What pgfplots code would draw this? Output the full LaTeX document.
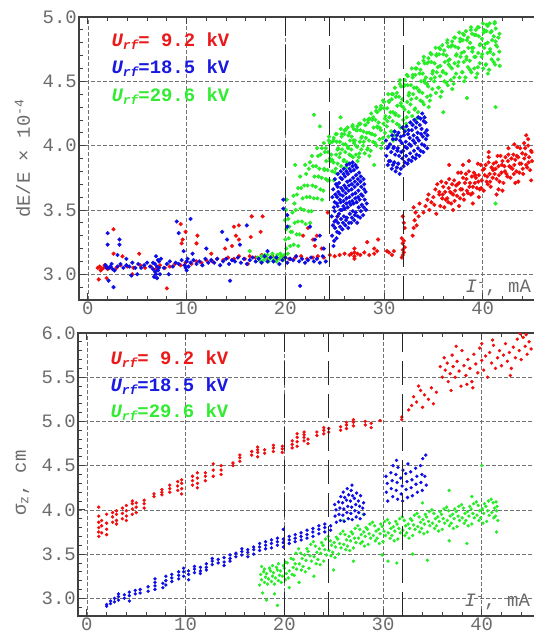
\documentclass[border=0pt]{standalone}
\usepackage{pgfplots}
\pgfplotsset{compat=1.18}
\usepackage{fontspec}
\setmainfont{Liberation Serif}
\setmonofont{Liberation Mono}
\definecolor{tgray}{gray}{0.42}
\definecolor{cR}{rgb}{0.95,0.05,0.05}
\definecolor{cB}{rgb}{0.05,0.05,0.9}
\definecolor{cG}{rgb}{0.15,0.93,0.15}
\definecolor{lR}{rgb}{0.92,0.1,0.1}
\definecolor{lB}{rgb}{0.1,0.1,0.88}
\definecolor{lG}{rgb}{0.2,0.92,0.2}
\newcommand{\tlab}{\fontsize{19}{19}\selectfont\ttfamily}
\newcommand{\legf}{\fontsize{19}{19}\selectfont\ttfamily\bfseries}
\newcommand{\Urf}{{\itshape U\raisebox{-0.3ex}{\fontsize{13}{13}\selectfont rf}}}
\pgfplotsset{
 panel/.style={
  scale only axis, width=460bp, height=283bp,
  xmin=-0.9, xmax=45.7,
  xtick={0,10,20,30,40}, minor xtick={0,2,...,44},
  xtick pos=both, xticklabel pos=bottom, ytick pos=left,
  tick align=inside,
  major tick length=7bp, minor tick length=4bp,
  tick style={black!75, line width=0.8bp},
  axis line style={black!75, line width=1.2bp},
  grid=major,
  major grid style={black!55, line width=0.6bp, dash pattern=on 3.5bp off 2.5bp},
  tick label style={font=\tlab, text=tgray, inner sep=2bp},
  /pgf/number format/assume math mode=true,
  yticklabel style={/pgf/number format/fixed, /pgf/number format/fixed zerofill, /pgf/number format/precision=1},
  clip mode=individual,
 },
 dashv/.style={black!85, line width=1.4bp, dash pattern=on 24bp off 9bp},
 pR/.style={only marks, mark=*, mark size=1.9bp, color=cR},
 pB/.style={only marks, mark=*, mark size=1.9bp, color=cB},
 pG/.style={only marks, mark=*, mark size=1.9bp, color=cG},
}
\begin{document}
\begin{tikzpicture}
\path[use as bounding box] (0,0) rectangle (534bp,640bp);
% ================= TOP PANEL =================
\begin{axis}[panel, at={(79bp,340bp)}, anchor=south west,
  ymin=2.8, ymax=5.0, ytick={3,3.5,...,5}, minor ytick={2.9,3.0,...,5.0},
  ylabel={dE/E \texttimes{} 10\textsuperscript{-4}},
  every axis y label/.style={at={(ticklabel cs:0.5,7bp)}, rotate=90, anchor=south, font=\tlab, text=tgray}]
% red
\addplot[pR] coordinates {
(1.0,3.05)(1.2,3.06)(1.4,3.04)(1.6,3.05)(1.8,3.06)(2.0,3.04)(1.3,3.03)(1.7,3.07)(2.2,3.05)(2.9,3.05)(3.3,3.07)(4.0,3.06)(4.6,3.05)(5.3,3.07)(5.8,3.05)(6.4,3.06)(6.9,3.04)(7.3,3.07)(7.8,3.05)(8.3,3.06)(8.8,3.08)(9.4,3.07)(9.9,3.09)(10.5,3.08)(11.0,3.10)(11.5,3.09)(12.0,3.11)(12.6,3.10)(13.1,3.12)(13.7,3.11)(14.2,3.13)(14.8,3.12)(15.3,3.14)(15.9,3.12)(16.4,3.14)(17.0,3.13)(17.6,3.15)(18.1,3.13)(18.7,3.14)(19.2,3.12)(19.8,3.13)(20.4,3.12)(21.0,3.13)(21.6,3.14)(22.2,3.12)(22.8,3.13)(23.3,3.14)(23.9,3.13)(24.5,3.15)(25.0,3.14)(25.5,3.15)(26.0,3.16)(26.5,3.15)(27.0,3.12)(27.0,3.14)(27.0,3.17)(27.0,3.20)(26.7,3.16)(27.3,3.16)(27.6,3.15)(28.0,3.17)(28.5,3.15)(29.0,3.16)(29.3,3.18)(30.5,3.17)(31.0,3.18)
(1.1,2.96)(1.9,2.97)(2.6,3.35)(2.6,3.16)(3.5,3.14)(4.5,3.0)(5.2,3.16)(8.0,2.89)(9.4,3.39)(9.9,3.33)(9.5,3.24)(9.6,3.27)(11.0,3.24)(11.1,3.30)(12.5,3.16)(13.9,3.20)(14.8,3.37)(15.0,3.30)(15.3,3.27)(14.6,3.22)(15.3,3.38)(16.5,3.29)(16.6,3.45)(17.5,3.33)(17.7,3.45)(16.2,3.08)(22.3,3.36)(22.8,3.27)(23.2,3.30)(24.3,3.48)(23.0,3.22)(25.3,3.45)(28.3,3.25)(29.4,3.27)(30.8,3.15)(23.7,3.20)(21.8,3.30)(29.0,3.20)(30.3,3.18)
(31.8,3.13)(31.9,3.15)(32.0,3.17)(31.9,3.19)(32.1,3.21)(31.9,3.24)(32.0,3.26)(31.8,3.28)(32.0,3.40)(31.9,3.45)(32.1,3.36)
(32.9,3.30)(33.0,3.36)(33.1,3.42)(33.2,3.48)(33.0,3.52)(33.3,3.38)(33.5,3.45)(33.6,3.55)(34.0,3.48)(34.2,3.53)(34.4,3.58)(34.5,3.62)(34.6,3.50)(34.8,3.56)(35.0,3.60)(35.2,3.66)(35.1,3.54)(35.4,3.70)(35.6,3.62)(35.3,3.47)
(35.6,3.64)(35.7,3.53)(35.8,3.72)(35.9,3.59)(36.0,3.68)(36.1,3.52)(36.2,3.64)(36.3,3.71)(36.4,3.59)(36.5,3.56)(36.6,3.74)(36.7,3.64)(36.8,3.55)(36.9,3.70)(37.0,3.62)(37.1,3.73)(37.2,3.65)(37.3,3.69)(37.4,3.61)(37.5,3.79)(37.6,3.71)(37.7,3.59)(37.8,3.79)(37.9,3.66)(38.0,3.75)(38.1,3.58)(38.2,3.71)(38.3,3.78)(38.4,3.65)(38.5,3.63)(38.6,3.80)(38.7,3.71)(38.8,3.62)(38.9,3.76)(39.0,3.68)(39.1,3.79)(39.2,3.71)(39.3,3.75)(39.4,3.67)(39.5,3.86)(39.6,3.77)(39.7,3.66)(39.8,3.85)(39.9,3.73)(40.0,3.81)(40.1,3.65)(40.2,3.77)(40.3,3.85)(40.4,3.72)(40.5,3.70)(40.6,3.87)(40.7,3.78)(40.8,3.68)(40.9,3.83)(41.0,3.75)(41.1,3.86)(41.2,3.78)(41.3,3.82)(41.4,3.74)(41.5,3.92)(41.6,3.84)(41.7,3.72)(41.8,3.92)(41.9,3.79)(42.0,3.88)(42.1,3.71)(42.2,3.84)(42.3,3.91)(42.4,3.78)(42.5,3.76)(42.6,3.93)(42.7,3.84)(42.8,3.75)(42.9,3.90)(43.0,3.82)(43.1,3.93)(43.2,3.85)(43.3,3.89)(43.4,3.80)(43.5,3.99)(43.6,3.91)(43.7,3.79)(43.8,3.98)(43.9,3.86)(44.0,3.94)(44.1,3.78)(44.2,3.90)(44.3,3.98)(44.4,3.85)(44.5,3.83)(44.6,4.00)(44.7,3.91)(44.8,3.81)(44.9,3.96)(45.0,3.88)
(44.6,4.05)(44.2,4.02)(43.2,4.01)(37.0,3.50)(39.0,3.55)(41.4,3.62)(42.0,3.65)(38.0,3.85)(36.6,3.85)(40.6,3.95)(43.3,3.71)(44.9,3.73)
(35.95,3.62)(36.25,3.58)(36.55,3.67)(36.85,3.63)(37.15,3.57)(37.45,3.70)(37.75,3.66)(38.05,3.62)(38.35,3.74)(38.65,3.68)(38.95,3.63)(39.25,3.77)(39.55,3.72)(39.85,3.67)(40.15,3.82)(40.45,3.76)(40.75,3.72)(41.05,3.81)(41.35,3.87)(41.65,3.77)(41.95,3.85)(42.25,3.80)(42.55,3.88)(42.85,3.83)(43.15,3.78)(43.45,3.92)(43.75,3.86)(44.05,3.82)(44.35,3.93)(44.65,3.87)(44.95,3.95)(37.6,3.53)(39.6,3.60)(41.6,3.66)(43.6,3.72)(38.6,3.88)(40.6,3.91)(42.6,3.98)(44.4,4.08)
};
% green
\addplot[pG] coordinates {
(17.4,3.12)(17.6,3.14)(17.8,3.11)(18.0,3.13)(18.2,3.15)(18.4,3.12)(18.6,3.14)(18.8,3.11)(19.0,3.13)(19.2,3.15)(19.4,3.12)(19.6,3.14)(19.8,3.11)(20.0,3.13)(17.5,3.10)(17.9,3.15)(18.3,3.10)(18.7,3.16)(19.1,3.10)(19.5,3.16)(19.9,3.15)(17.2,3.13)(20.1,3.20)(20.0,3.27)(20.1,3.35)(19.95,3.42)(20.05,3.50)(20.15,3.58)
(20.25,3.16)(20.5,3.22)(20.35,3.28)(20.55,3.33)(20.4,3.37)(20.3,3.43)
(20.85,3.23)(20.68,3.33)(20.95,3.40)(20.72,3.48)(20.92,3.55)(20.82,3.61)
(21.32,3.22)(21.15,3.31)(21.28,3.41)(21.05,3.50)(21.18,3.62)(21.3,3.67)
(21.45,3.31)(21.7,3.41)(21.55,3.51)(21.75,3.59)(21.6,3.67)(21.5,3.76)
(22.05,3.39)(21.88,3.50)(22.15,3.60)(21.92,3.69)(22.12,3.78)(22.02,3.85)
(22.52,3.40)(22.35,3.49)(22.48,3.60)(22.25,3.69)(22.38,3.82)(22.5,3.87)
(22.65,3.49)(22.9,3.59)(22.75,3.69)(22.95,3.76)(22.8,3.84)(22.7,3.92)
(23.25,3.59)(23.08,3.68)(23.35,3.76)(23.12,3.84)(23.32,3.92)(23.22,3.98)
(23.72,3.58)(23.55,3.66)(23.68,3.75)(23.45,3.82)(23.58,3.93)(23.7,3.98)
(23.85,3.65)(24.1,3.74)(23.95,3.82)(24.15,3.88)(24.0,3.95)(23.9,4.02)
(24.45,3.73)(24.28,3.81)(24.55,3.88)(24.32,3.95)(24.52,4.02)(24.42,4.07)
(24.92,3.73)(24.75,3.80)(24.88,3.87)(24.65,3.93)(24.78,4.03)(24.9,4.06)
(25.05,3.79)(25.3,3.86)(25.15,3.93)(25.35,3.98)(25.2,4.03)(25.1,4.09)
(25.65,3.84)(25.48,3.91)(25.75,3.97)(25.52,4.03)(25.72,4.09)(25.62,4.13)
(26.12,3.83)(25.95,3.89)(26.08,3.95)(25.85,4.01)(25.98,4.09)(26.1,4.12)
(26.25,3.87)(26.5,3.93)(26.35,3.99)(26.55,4.04)(26.4,4.08)(26.3,4.14)
(26.85,3.91)(26.68,3.97)(26.95,4.02)(26.72,4.07)(26.92,4.13)(26.82,4.16)
(27.32,3.88)(27.15,3.93)(27.28,3.99)(27.05,4.04)(27.18,4.12)(27.3,4.15)
(27.45,3.91)(27.7,3.97)(27.55,4.03)(27.75,4.07)(27.6,4.12)(27.5,4.17)
(28.05,3.94)(27.88,4.00)(28.15,4.06)(27.92,4.11)(28.12,4.16)(28.02,4.20)
(28.52,3.92)(28.35,3.98)(28.48,4.04)(28.25,4.10)(28.38,4.18)(28.5,4.21)
(28.65,3.96)(28.9,4.03)(28.75,4.09)(28.95,4.14)(28.8,4.20)(28.7,4.25)
(29.25,4.00)(29.08,4.08)(29.35,4.14)(29.12,4.20)(29.32,4.26)(29.22,4.30)
(29.72,3.98)(29.55,4.05)(29.68,4.12)(29.45,4.18)(29.58,4.28)(29.7,4.31)
(29.85,4.02)(30.1,4.10)(29.95,4.17)(30.15,4.23)(30.0,4.29)(29.9,4.35)
(30.45,4.07)(30.28,4.15)(30.55,4.22)(30.32,4.29)(30.52,4.35)(30.42,4.40)
(30.92,4.04)(30.75,4.11)(30.88,4.19)(30.65,4.26)(30.78,4.36)(30.9,4.40)
(31.05,4.08)(31.3,4.17)(31.15,4.25)(31.35,4.31)(31.2,4.38)(31.1,4.45)
(31.65,4.14)(31.48,4.23)(31.75,4.31)(31.52,4.38)(31.72,4.46)(31.62,4.51)
(32.12,4.12)(31.95,4.20)(32.08,4.28)(31.85,4.36)(31.98,4.46)(32.1,4.51)
(32.25,4.17)(32.5,4.26)(32.35,4.34)(32.55,4.41)(32.4,4.47)(32.3,4.55)
(32.85,4.23)(32.68,4.32)(32.95,4.40)(32.72,4.47)(32.92,4.55)(32.82,4.60)
(33.32,4.21)(33.15,4.29)(33.28,4.37)(33.05,4.45)(33.18,4.55)(33.3,4.60)
(33.45,4.26)(33.7,4.35)(33.55,4.43)(33.75,4.50)(33.6,4.56)(33.5,4.64)
(34.05,4.32)(33.88,4.41)(34.15,4.49)(33.92,4.56)(34.12,4.64)(34.02,4.69)
(34.52,4.30)(34.35,4.38)(34.48,4.46)(34.25,4.53)(34.38,4.64)(34.5,4.68)
(34.65,4.35)(34.9,4.44)(34.75,4.52)(34.95,4.58)(34.8,4.65)(34.7,4.72)
(35.25,4.41)(35.08,4.50)(35.35,4.57)(35.12,4.64)(35.32,4.71)(35.22,4.76)
(35.72,4.38)(35.55,4.45)(35.68,4.54)(35.45,4.61)(35.58,4.71)(35.7,4.75)
(35.85,4.42)(36.1,4.50)(35.95,4.58)(36.15,4.65)(36.0,4.71)(35.9,4.78)
(36.45,4.47)(36.28,4.56)(36.55,4.63)(36.32,4.70)(36.52,4.77)(36.42,4.82)
(36.92,4.44)(36.75,4.51)(36.88,4.60)(36.65,4.67)(36.78,4.77)(36.9,4.81)
(37.05,4.48)(37.3,4.56)(37.15,4.64)(37.35,4.71)(37.2,4.77)(37.1,4.84)
(37.65,4.53)(37.48,4.62)(37.75,4.69)(37.52,4.76)(37.72,4.83)(37.62,4.88)
(38.12,4.50)(37.95,4.57)(38.08,4.65)(37.85,4.72)(37.98,4.82)(38.1,4.86)
(38.25,4.53)(38.5,4.61)(38.35,4.69)(38.55,4.76)(38.4,4.82)(38.3,4.89)
(38.85,4.57)(38.68,4.66)(38.95,4.73)(38.72,4.80)(38.92,4.87)(38.82,4.92)
(39.32,4.53)(39.15,4.60)(39.28,4.69)(39.05,4.76)(39.18,4.86)(39.3,4.90)
(39.45,4.56)(39.7,4.64)(39.55,4.72)(39.75,4.79)(39.6,4.85)(39.5,4.92)
(40.05,4.60)(39.88,4.69)(40.15,4.76)(39.92,4.83)(40.12,4.90)(40.02,4.95)
(40.52,4.56)(40.35,4.63)(40.48,4.72)(40.25,4.79)(40.38,4.89)(40.5,4.93)
(40.65,4.59)(40.9,4.67)(40.75,4.75)(40.95,4.82)(40.8,4.88)(40.7,4.95)
(41.25,4.63)(41.08,4.71)(41.35,4.78)(41.12,4.85)(41.32,4.91)(41.22,4.96)
(41.72,4.62)(41.55,4.67)(41.68,4.73)(41.45,4.77)(41.58,4.84)(41.7,4.87)
(22.9,4.24)(25.6,4.22)(23.5,4.15)(41.3,4.30)(36.0,4.26)(38.4,4.37)(41.3,3.55)(21.0,3.85)(29.0,3.85)(16.4,3.18)
(24.3,3.73)(23.95,3.81)(24.5,3.90)(24.1,3.98)(24.4,4.04)
(25.1,3.82)(24.75,3.89)(25.3,3.97)(24.9,4.04)(25.2,4.09)
(25.9,3.88)(25.55,3.94)(26.1,4.01)(25.7,4.07)(26.0,4.12)
(26.7,3.92)(26.35,3.98)(26.9,4.04)(26.5,4.10)(26.8,4.15)
(27.5,3.94)(27.15,4.00)(27.7,4.06)(27.3,4.12)(27.6,4.17)
(28.3,3.97)(27.95,4.03)(28.5,4.10)(28.1,4.16)(28.4,4.20)
(29.1,4.02)(28.75,4.09)(29.3,4.15)(28.9,4.22)(29.2,4.27)
(29.9,4.06)(29.55,4.14)(30.1,4.21)(29.7,4.29)(30.0,4.34)
(30.7,4.11)(30.35,4.19)(30.9,4.26)(30.5,4.34)(30.8,4.40)
(31.5,4.16)(31.15,4.24)(31.7,4.33)(31.3,4.41)(31.6,4.48)
(32.3,4.22)(31.95,4.30)(32.5,4.39)(32.1,4.47)(32.4,4.54)
(33.1,4.28)(32.75,4.36)(33.3,4.45)(32.9,4.53)(33.2,4.60)
(33.9,4.34)(33.55,4.42)(34.1,4.51)(33.7,4.59)(34.0,4.66)
(34.7,4.39)(34.35,4.48)(34.9,4.56)(34.5,4.65)(34.8,4.71)
(35.5,4.45)(35.15,4.53)(35.7,4.62)(35.3,4.70)(35.6,4.76)
(36.3,4.49)(35.95,4.57)(36.5,4.66)(36.1,4.74)(36.4,4.80)
(37.1,4.53)(36.75,4.61)(37.3,4.70)(36.9,4.78)(37.2,4.84)
(37.9,4.57)(37.55,4.65)(38.1,4.73)(37.7,4.81)(38.0,4.87)
(38.7,4.59)(38.35,4.67)(38.9,4.76)(38.5,4.84)(38.8,4.90)
(39.5,4.61)(39.15,4.69)(39.7,4.78)(39.3,4.86)(39.6,4.92)
(40.3,4.63)(39.95,4.71)(40.5,4.80)(40.1,4.88)(40.4,4.94)
(41.1,4.65)(40.75,4.73)(41.3,4.81)(40.9,4.89)(41.2,4.95)
};
% blue
\addplot[pB] coordinates {
(1.8,3.07)(2.1,3.05)(2.4,3.08)(2.7,3.03)(3.0,3.06)(3.3,3.08)(3.6,3.05)(3.9,3.07)(4.2,3.06)(4.5,3.09)(4.8,3.05)(5.1,3.08)(5.4,3.05)(5.7,3.07)(6.0,3.09)(6.3,3.06)(6.6,3.09)(6.8,3.02)(6.9,3.14)(7.0,3.06)(7.1,3.11)(7.2,3.05)(7.4,3.12)(7.7,3.05)(8.0,3.08)(8.3,3.10)(8.6,3.06)(8.9,3.09)(9.2,3.08)(9.5,3.11)(9.8,3.07)(10.0,3.10)(10.2,3.06)(10.4,3.09)(10.7,3.11)(11.0,3.08)(11.3,3.10)(11.6,3.07)(11.9,3.12)(12.2,3.09)(12.5,3.11)(12.8,3.09)(13.1,3.12)(13.4,3.07)(13.7,3.10)(14.0,3.12)(14.3,3.08)(14.6,3.11)(14.9,3.10)(15.2,3.13)(15.5,3.09)(15.8,3.12)(16.1,3.08)(16.4,3.11)(16.7,3.13)(17.0,3.10)(17.3,3.12)(17.6,3.09)(17.9,3.14)(18.2,3.10)(18.5,3.13)(18.8,3.10)(19.1,3.13)(19.4,3.08)(19.7,3.11)(20.0,3.13)(20.2,3.09)(20.5,3.12)(20.8,3.11)(21.1,3.14)(21.4,3.10)(21.7,3.12)(22.0,3.09)(22.3,3.11)(22.6,3.13)(22.9,3.10)(23.2,3.12)(23.5,3.09)(23.8,3.14)(24.1,3.10)
(6.7,2.98)(6.9,3.00)(7.0,2.97)(7.1,3.03)(6.8,3.08)(7.2,3.10)(7.3,3.00)(6.6,3.04)(10.0,3.03)(10.1,3.12)(9.9,3.05)(2.3,3.06)(2.5,3.04)(1.9,3.05)
(2.0,3.32)(2.0,3.23)(2.1,2.95)(2.6,2.90)(3.2,3.27)(3.2,3.23)(3.0,3.15)(3.9,3.12)(9.0,3.41)(9.2,3.32)(10.4,3.43)(9.7,3.18)(10.6,3.16)(13.6,3.33)(14.1,3.27)(16.1,3.38)(14.4,2.95)(15.4,3.23)(12.0,3.20)(19.8,3.58)(19.8,3.51)(20.2,3.46)(20.2,3.37)(22.5,3.37)(23.0,3.27)(23.5,3.30)(21.5,2.91)(18.2,3.18)(23.9,3.20)(8.2,3.00)(5.0,3.00)(4.4,2.99)
(24.88,3.22)(24.74,3.30)(24.83,3.38)(24.70,3.45)(24.92,3.52)(24.77,3.60)(24.85,3.66)
(25.18,3.28)(25.04,3.36)(25.13,3.42)(25.0,3.49)(25.22,3.55)(25.07,3.62)(25.15,3.70)(25.02,3.74)
(25.48,3.32)(25.34,3.40)(25.43,3.47)(25.30,3.53)(25.52,3.58)(25.37,3.64)(25.45,3.71)(25.32,3.78)
(25.78,3.35)(25.64,3.43)(25.73,3.50)(25.60,3.56)(25.82,3.61)(25.67,3.67)(25.75,3.74)(25.62,3.80)
(26.08,3.38)(25.94,3.45)(26.03,3.51)(25.90,3.57)(26.12,3.63)(25.97,3.69)(26.05,3.76)(25.92,3.82)
(26.38,3.36)(26.24,3.44)(26.33,3.52)(26.20,3.59)(26.42,3.65)(26.27,3.72)(26.35,3.78)(26.22,3.85)
(26.68,3.40)(26.54,3.47)(26.63,3.54)(26.50,3.60)(26.72,3.66)(26.57,3.73)(26.65,3.80)(26.52,3.86)
(26.98,3.42)(26.84,3.49)(26.93,3.55)(26.80,3.62)(27.02,3.68)(26.87,3.75)(26.95,3.81)(26.82,3.87)
(27.28,3.40)(27.14,3.48)(27.23,3.56)(27.10,3.63)(27.32,3.70)(27.17,3.77)(27.25,3.83)
(27.58,3.44)(27.44,3.52)(27.53,3.58)(27.40,3.65)(27.62,3.72)(27.47,3.79)
(27.88,3.46)(27.74,3.54)(27.83,3.61)(27.70,3.68)(27.92,3.74)
(28.18,3.50)(28.04,3.58)(28.13,3.64)(28.00,3.70)
(24.95,3.26)(24.98,3.41)(25.0,3.56)(25.25,3.33)(25.28,3.45)(25.25,3.60)(25.3,3.68)(25.55,3.37)(25.58,3.50)(25.55,3.62)(25.6,3.75)(25.85,3.40)(25.88,3.53)(25.85,3.65)(25.9,3.78)(26.15,3.42)(26.18,3.55)(26.15,3.67)(26.2,3.80)(26.45,3.40)(26.48,3.56)(26.45,3.69)(26.5,3.82)(26.75,3.44)(26.78,3.57)(26.75,3.70)(26.8,3.84)(27.05,3.46)(27.08,3.59)(27.05,3.72)(27.1,3.85)(27.35,3.45)(27.38,3.60)(27.35,3.74)(27.65,3.49)(27.68,3.62)(27.65,3.76)(27.95,3.52)(27.98,3.66)(28.25,3.55)
(30.38,3.85)(30.24,3.92)(30.33,3.98)(30.20,4.04)
(30.78,3.82)(30.64,3.88)(30.73,3.95)(30.60,4.01)(30.82,4.08)
(31.18,3.80)(31.04,3.87)(31.13,3.93)(31.0,3.99)(31.22,4.05)(31.07,4.11)
(31.58,3.78)(31.44,3.86)(31.53,3.92)(31.40,3.98)(31.62,4.04)(31.47,4.10)
(31.98,3.84)(31.84,3.90)(31.93,3.96)(31.80,4.02)(32.02,4.08)(31.87,4.14)
(32.38,3.86)(32.24,3.92)(32.33,3.98)(32.20,4.03)(32.42,4.09)(32.27,4.15)
(32.78,3.88)(32.64,3.94)(32.73,4.00)(32.60,4.06)(32.82,4.12)(32.67,4.18)
(33.18,3.90)(33.04,3.96)(33.13,4.02)(33.0,4.08)(33.22,4.14)(33.07,4.20)
(33.58,3.92)(33.44,3.98)(33.53,4.04)(33.40,4.10)(33.62,4.16)(33.47,4.22)
(33.98,3.95)(33.84,4.01)(33.93,4.07)(33.80,4.13)(34.02,4.19)(33.87,4.25)
(34.38,3.98)(34.24,4.05)(34.33,4.12)(34.20,4.18)
(30.5,3.88)(30.45,3.99)(30.9,3.85)(30.95,3.98)(30.9,4.05)(31.3,3.83)(31.35,3.96)(31.3,4.08)(31.7,3.82)(31.75,3.95)(31.7,4.07)(32.1,3.87)(32.15,3.99)(32.1,4.11)(32.5,3.89)(32.55,4.01)(32.5,4.12)(32.9,3.91)(32.95,4.04)(32.9,4.16)(33.3,3.93)(33.35,4.06)(33.3,4.18)(33.7,3.96)(33.75,4.09)(33.7,4.21)(34.1,4.00)(34.15,4.10)(34.1,4.22)(34.4,4.08)
};
\addplot[dashv] coordinates {(20,2.8) (20,5.0)};
\addplot[dashv] coordinates {(24.5,2.8) (24.5,5.0)};
\addplot[dashv] coordinates {(32,2.8) (32,5.0)};
\node[anchor=base west, font=\legf, text=lR] at (rel axis cs:0.063,0.894) {\Urf= 9.2 kV};
\node[anchor=base west, font=\legf, text=lB] at (rel axis cs:0.063,0.799) {\Urf=18.5 kV};
\node[anchor=base west, font=\legf, text=lG] at (rel axis cs:0.063,0.703) {\Urf=29.6 kV};
\node[anchor=base east, font=\tlab, text=tgray, inner sep=0pt] at (axis cs:44.9,2.86) {{\itshape I\textsuperscript{-}}, mA};
\end{axis}
% ================= BOTTOM PANEL =================
\begin{axis}[panel, at={(78bp,24bp)}, anchor=south west,
  ymin=2.8, ymax=6.0, ytick={3,3.5,...,6}, minor ytick={2.9,3.0,...,6.0},
  ylabel={σ\textsubscript{z}, cm},
  every axis y label/.style={at={(ticklabel cs:0.47,7bp)}, rotate=90, anchor=south, font=\tlab, text=tgray}]
% red
\addplot[pR, mark size=1.5bp] coordinates {
(1.2,3.70)(1.2,3.75)(1.2,3.80)(1.2,3.86)(1.2,3.93)(1.2,4.03)(1.5,3.74)(1.5,3.82)(1.5,3.88)(2.0,3.72)(2.0,3.78)(2.0,3.85)(2.0,3.95)(2.6,3.86)(2.6,3.92)(2.6,3.97)(3.0,3.84)(3.0,3.88)(3.0,3.95)(3.0,3.99)(3.6,3.90)(3.6,3.96)(3.6,4.02)(4.0,3.88)(4.0,3.93)(4.0,3.99)(4.0,4.05)(4.6,3.95)(4.6,4.01)(4.6,4.07)(4.6,4.10)(5.0,3.97)(5.0,4.03)(5.0,4.08)(5.8,4.02)(5.8,4.07)(5.8,4.11)(6.8,4.15)(6.8,4.18)(7.6,4.17)(7.6,4.20)(7.6,4.23)(8.4,4.20)(8.4,4.24)(8.4,4.28)(9.2,4.22)(9.2,4.27)(9.2,4.32)(9.6,4.18)(9.6,4.24)(9.6,4.30)(9.6,4.34)(10.7,4.28)(10.7,4.33)(10.7,4.38)(11.2,4.25)(11.2,4.30)(11.2,4.36)(11.2,4.42)(12.0,4.33)(12.0,4.38)(12.0,4.42)(12.8,4.38)(12.8,4.45)(12.8,4.52)(13.6,4.40)(13.6,4.45)(13.6,4.50)(14.8,4.50)(14.8,4.53)(15.5,4.55)(15.5,4.59)(15.5,4.62)(16.7,4.62)(16.7,4.66)(17.3,4.60)(17.3,4.65)(17.3,4.68)(17.3,4.71)(18.0,4.64)(18.0,4.68)(18.9,4.66)(18.9,4.70)(18.9,4.73)(19.8,4.65)(19.8,4.69)(19.8,4.72)(20.8,4.70)(20.8,4.74)(20.8,4.78)(21.3,4.72)(21.3,4.77)(21.3,4.82)(21.3,4.86)(22.0,4.78)(22.0,4.82)(22.0,4.85)(22.0,4.88)(22.4,4.75)(22.4,4.80)(23.3,4.84)(23.3,4.88)(24.0,4.86)(24.0,4.90)(24.0,4.93)(24.5,4.88)(24.5,4.92)(25.7,4.90)(25.7,4.94)(26.3,4.92)(26.3,4.96)(26.3,4.99)(27.0,4.95)(27.0,4.99)(27.0,5.02)(28.2,4.96)(28.2,5.00)(28.8,4.93)(28.8,4.98)(29.7,5.01)(31.9,5.02)(31.9,5.05)
(32.6,5.13)(32.9,5.18)(33.1,5.28)(33.4,5.22)(33.8,5.35)(34.0,5.16)(34.2,5.30)(34.6,5.25)(34.9,5.38)(35.1,5.20)(35.4,5.33)(33.6,5.40)
(35.8,5.62)(36.0,5.50)(36.2,5.72)(36.3,5.58)(36.5,5.66)(36.6,5.45)(36.8,5.54)(37.0,5.75)(37.1,5.62)(37.3,5.50)(37.5,5.68)(37.7,5.57)(37.9,5.40)(38.0,5.80)(38.2,5.63)(38.4,5.52)(38.6,5.70)(38.8,5.60)(39.0,5.45)(39.2,5.76)(39.4,5.65)(39.6,5.55)(39.8,5.83)(40.0,5.69)(40.2,5.58)(40.4,5.74)(40.6,5.50)(40.8,5.78)(41.0,5.66)(41.2,5.86)(41.4,5.60)(41.6,5.72)(41.8,5.80)(42.0,5.63)(42.2,5.75)(42.4,5.88)(42.6,5.68)(42.8,5.78)(43.0,5.60)(43.2,5.84)(43.4,5.72)(43.6,5.93)(43.8,5.80)(44.0,5.70)(44.2,5.95)(44.4,5.85)(44.6,5.76)(44.8,5.90)(45.0,5.82)(36.9,5.35)(38.5,5.42)(40.0,5.88)(42.9,5.52)(44.5,5.98)(39.1,5.38)(41.1,5.92)(43.9,5.99)(37.4,5.85)
};
% green
\addplot[pG, mark size=1.5bp] coordinates {
(17.5,3.15)(18.0,3.18)(17.7,3.21)(18.1,3.24)(17.6,3.27)(17.9,3.30)(18.0,3.33)(17.7,3.36)
(18.3,3.16)(18.7,3.19)(18.4,3.22)(18.8,3.25)(18.2,3.28)(18.6,3.31)(18.5,3.34)(18.8,3.37)
(19.0,3.16)(19.4,3.20)(19.1,3.23)(19.5,3.26)(18.9,3.29)(19.3,3.32)(19.2,3.35)(19.4,3.39)
(19.7,3.18)(20.1,3.21)(19.8,3.25)(20.2,3.28)(19.6,3.31)(20.0,3.34)(19.9,3.37)(20.1,3.41)
(20.4,3.23)(20.8,3.27)(20.5,3.31)(20.9,3.35)(20.3,3.40)(20.7,3.45)
(21.0,3.26)(21.25,3.33)(21.1,3.39)(20.92,3.44)(21.18,3.51)
(21.72,3.32)(21.52,3.39)(21.8,3.45)(21.65,3.51)(21.45,3.56)
(22.13,3.30)(21.9,3.36)(22.2,3.43)(22.05,3.49)(22.28,3.56)
(22.5,3.34)(22.75,3.42)(22.6,3.48)(22.42,3.53)(22.68,3.61)
(23.22,3.39)(23.02,3.47)(23.3,3.52)(23.15,3.59)(22.95,3.64)
(23.63,3.38)(23.4,3.44)(23.7,3.51)(23.55,3.56)(23.78,3.63)
(24.0,3.42)(24.25,3.49)(24.1,3.55)(23.92,3.60)(24.18,3.67)
(24.72,3.48)(24.52,3.54)(24.8,3.60)(24.65,3.65)(24.45,3.70)
(25.13,3.46)(24.9,3.52)(25.2,3.58)(25.05,3.63)(25.28,3.69)
(25.5,3.50)(25.75,3.57)(25.6,3.62)(25.42,3.67)(25.68,3.73)
(26.22,3.55)(26.02,3.61)(26.3,3.66)(26.15,3.72)(25.95,3.76)
(26.63,3.54)(26.4,3.59)(26.7,3.65)(26.55,3.70)(26.78,3.75)
(27.0,3.57)(27.25,3.63)(27.1,3.68)(26.92,3.73)(27.18,3.79)
(27.72,3.62)(27.52,3.68)(27.8,3.72)(27.65,3.78)(27.45,3.82)
(28.13,3.59)(27.9,3.64)(28.2,3.70)(28.05,3.75)(28.28,3.80)
(28.5,3.61)(28.75,3.68)(28.6,3.73)(28.42,3.78)(28.68,3.84)
(29.22,3.65)(29.02,3.71)(29.3,3.76)(29.15,3.82)(28.95,3.86)
(29.63,3.62)(29.4,3.68)(29.7,3.73)(29.55,3.78)(29.78,3.84)
(30.0,3.64)(30.25,3.71)(30.1,3.76)(29.92,3.81)(30.18,3.87)
(30.72,3.68)(30.52,3.74)(30.8,3.79)(30.65,3.85)(30.45,3.89)
(31.13,3.65)(30.9,3.71)(31.2,3.76)(31.05,3.81)(31.28,3.87)
(31.5,3.67)(31.75,3.74)(31.6,3.79)(31.42,3.84)(31.68,3.90)
(32.22,3.71)(32.02,3.77)(32.3,3.82)(32.15,3.88)(31.95,3.92)
(32.63,3.68)(32.4,3.74)(32.7,3.79)(32.55,3.84)(32.78,3.90)
(33.0,3.71)(33.25,3.78)(33.1,3.83)(32.92,3.88)(33.18,3.94)
(33.72,3.75)(33.52,3.81)(33.8,3.86)(33.65,3.92)(33.45,3.96)
(34.13,3.73)(33.9,3.79)(34.2,3.84)(34.05,3.89)(34.28,3.95)
(34.5,3.75)(34.75,3.82)(34.6,3.87)(34.42,3.92)(34.68,3.98)
(35.22,3.79)(35.02,3.85)(35.3,3.90)(35.15,3.96)(34.95,4.00)
(35.63,3.76)(35.4,3.82)(35.7,3.87)(35.55,3.92)(35.78,3.98)
(36.0,3.78)(36.25,3.85)(36.1,3.90)(35.92,3.95)(36.18,4.01)
(36.72,3.82)(36.52,3.88)(36.8,3.93)(36.65,3.99)(36.45,4.03)
(37.13,3.79)(36.9,3.85)(37.2,3.90)(37.05,3.95)(37.28,4.01)
(37.5,3.81)(37.75,3.88)(37.6,3.93)(37.42,3.98)(37.68,4.04)
(38.22,3.85)(38.02,3.91)(38.3,3.96)(38.15,4.02)(37.95,4.06)
(38.63,3.82)(38.4,3.88)(38.7,3.93)(38.55,3.98)(38.78,4.04)
(39.0,3.84)(39.25,3.91)(39.1,3.96)(38.92,4.01)(39.18,4.07)
(39.72,3.88)(39.52,3.94)(39.8,3.99)(39.65,4.05)(39.45,4.09)
(40.13,3.85)(39.9,3.91)(40.2,3.96)(40.05,4.01)(40.28,4.07)
(40.5,3.87)(40.75,3.94)(40.6,3.99)(40.42,4.04)(40.68,4.10)
(41.22,3.91)(41.02,3.97)(41.3,4.02)(41.15,4.08)(40.95,4.12)
(41.63,3.88)(41.4,3.93)(41.5,3.99)(41.55,4.04)(41.45,4.09)
(17.8,3.06)(19.3,2.92)(18.2,2.98)(19.0,3.05)(20.5,3.12)(21.5,3.18)(29.9,3.49)(30.5,3.42)(31.4,3.40)(34.5,3.43)(36.7,3.65)(36.7,4.22)(40.0,4.50)(34.0,4.08)(28.0,3.95)(33.0,3.50)(38.5,3.62)(25.0,3.32)(27.0,3.42)(23.0,3.25)(26.0,3.88)(39.0,4.15)(41.5,3.75)
};
% blue
\addplot[pB, mark size=1.5bp] coordinates {
(2.0,2.91)(2.0,2.93)(2.4,2.94)(2.4,2.97)(2.8,2.96)(2.8,3.00)(3.2,2.98)(3.2,3.02)(3.2,3.05)(3.8,3.00)(3.8,3.04)(4.3,3.03)(4.3,3.07)(4.3,2.97)(4.9,3.05)(4.9,3.09)(5.4,3.06)(5.4,3.10)(6.2,3.08)(6.2,3.13)(6.9,3.10)(6.9,3.14)(6.9,3.18)(6.9,3.22)(7.7,3.12)(7.7,3.17)(8.0,3.15)(8.0,3.20)(8.0,3.25)(8.6,3.19)(8.6,3.23)(8.6,3.27)(9.3,3.22)(9.3,3.26)(9.3,3.30)(9.8,3.25)(9.8,3.30)(9.8,3.34)(10.3,3.27)(10.3,3.31)(10.3,3.21)(10.9,3.29)(10.9,3.33)(10.9,3.36)(11.5,3.31)(11.5,3.35)(11.5,3.28)(12.1,3.35)(12.1,3.39)(12.1,3.32)(12.7,3.38)(12.7,3.42)(12.7,3.45)(13.3,3.40)(13.3,3.44)(13.9,3.41)(13.9,3.46)(13.9,3.37)(14.5,3.45)(14.5,3.49)(14.5,3.42)(15.1,3.47)(15.1,3.51)(15.7,3.49)(15.7,3.53)(15.7,3.56)(16.3,3.47)(16.3,3.52)(16.3,3.55)(16.9,3.50)(16.9,3.55)(16.9,3.58)(17.5,3.54)(17.5,3.58)(17.5,3.62)(18.1,3.56)(18.1,3.60)(18.1,3.64)(18.7,3.57)(18.7,3.62)(18.7,3.66)(19.3,3.60)(19.3,3.64)(19.3,3.68)(19.9,3.58)(19.9,3.63)(19.9,3.67)(19.9,3.78)(20.5,3.62)(20.5,3.66)(20.5,3.70)(21.1,3.64)(21.1,3.68)(21.1,3.72)(21.7,3.66)(21.7,3.70)(21.7,3.74)(22.3,3.68)(22.3,3.72)(22.3,3.77)(22.9,3.70)(22.9,3.75)(22.9,3.79)(23.5,3.73)(23.5,3.78)(23.5,3.82)(24.1,3.75)(24.1,3.80)(24.1,3.84)(24.7,3.77)(24.7,3.82)
(25.28,3.86)(25.14,3.93)(25.23,4.00)(25.10,4.06)
(25.68,3.88)(25.54,3.95)(25.63,4.02)(25.50,4.09)(25.72,4.15)
(26.08,3.87)(25.94,3.94)(26.03,4.01)(25.90,4.08)(26.12,4.14)(25.97,4.20)
(26.48,3.90)(26.34,3.97)(26.43,4.04)(26.30,4.11)(26.52,4.17)(26.37,4.24)
(26.88,3.89)(26.74,3.96)(26.83,4.03)(26.70,4.10)(26.92,4.16)(26.77,4.22)(26.85,4.28)
(27.28,3.92)(27.14,3.99)(27.23,4.06)(27.10,4.13)(27.32,4.19)
(27.68,3.90)(27.54,3.97)(27.63,4.04)(27.50,4.10)(27.72,4.16)
(28.08,3.95)(27.94,4.02)(28.03,4.08)
(30.48,4.10)(30.34,4.20)(30.43,4.30)(30.30,4.38)
(30.98,4.15)(30.84,4.24)(30.93,4.33)(30.80,4.42)(31.02,4.50)
(31.48,4.12)(31.34,4.22)(31.43,4.31)(31.30,4.40)(31.52,4.48)(31.37,4.56)
(31.98,4.10)(31.84,4.18)(31.93,4.27)(31.80,4.36)(32.02,4.45)
(32.48,4.14)(32.34,4.23)(32.43,4.32)(32.30,4.41)(32.52,4.52)
(32.98,4.16)(32.84,4.25)(32.93,4.34)(32.80,4.43)
(33.48,4.20)(33.34,4.29)(33.43,4.38)(33.30,4.47)
(33.98,4.22)(33.84,4.31)(33.93,4.40)(33.80,4.50)(34.02,4.58)
(34.38,4.28)(34.24,4.38)(34.33,4.62)
};
\addplot[dashv] coordinates {(20,2.8) (20,6.0)};
\addplot[dashv] coordinates {(24.5,2.8) (24.5,6.0)};
\addplot[dashv] coordinates {(32,2.8) (32,6.0)};
\node[anchor=base west, font=\legf, text=lR] at (rel axis cs:0.063,0.887) {\Urf= 9.2 kV};
\node[anchor=base west, font=\legf, text=lB] at (rel axis cs:0.063,0.792) {\Urf=18.5 kV};
\node[anchor=base west, font=\legf, text=lG] at (rel axis cs:0.063,0.703) {\Urf=29.6 kV};
\node[anchor=base east, font=\tlab, text=tgray, inner sep=0pt] at (axis cs:44.9,2.91) {{\itshape I\textsuperscript{-}}, mA};
\end{axis}
\end{tikzpicture}
\end{document}
